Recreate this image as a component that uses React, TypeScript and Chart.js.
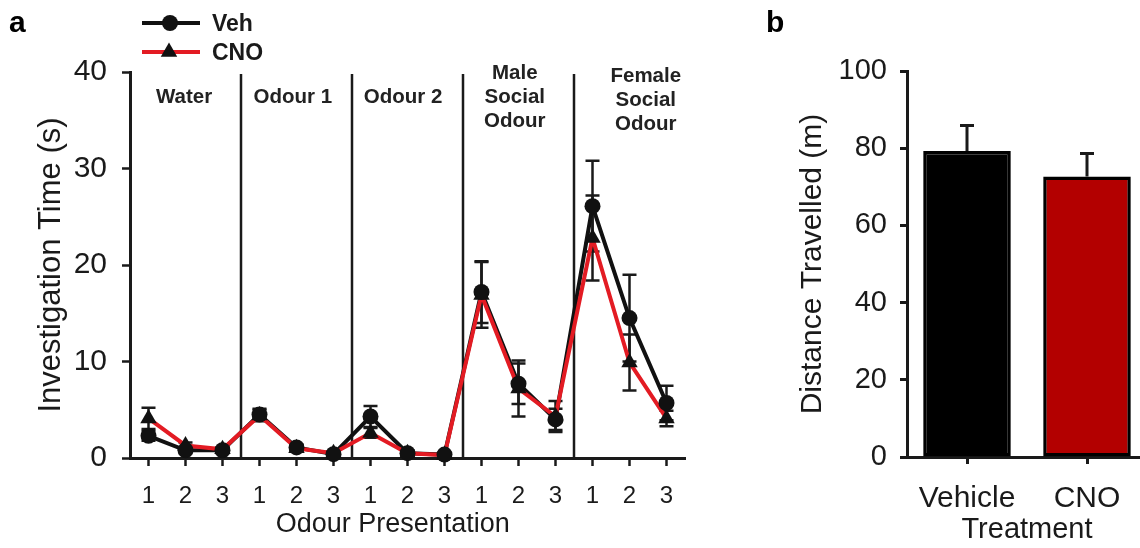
import React, { useEffect, useRef } from 'react';
import { Chart, registerables } from 'chart.js';

Chart.register(...registerables);

// ---------- data ----------
const presentationLabels = ['1', '2', '3', '1', '2', '3', '1', '2', '3', '1', '2', '3', '1', '2', '3'];
const vehMeans = [2.3, 0.8, 0.8, 4.5, 1.1, 0.4, 4.3, 0.5, 0.35, 17.2, 7.7, 4.0, 26.1, 14.5, 5.7];
const vehSem = [0.5, 0.3, 0.3, 0.6, 0.3, 0.2, 1.1, 0.3, 0.2, 3.2, 2.1, 1.1, 4.7, 4.5, 1.8];
const cnoMeans = [4.1, 1.3, 0.9, 4.4, 1.0, 0.5, 2.6, 0.5, 0.3, 16.9, 7.2, 4.3, 22.8, 9.9, 4.1];
const cnoSem = [1.1, 0.3, 0.2, 0.6, 0.3, 0.2, 0.5, 0.2, 0.1, 3.4, 2.9, 1.6, 4.4, 2.9, 0.8];
const sectionNames = [['Water'], ['Odour 1'], ['Odour 2'], ['Male', 'Social', 'Odour'], ['Female', 'Social', 'Odour']];
const seriesNames = ['Veh', 'CNO'];
const investigationTicks = [0, 10, 20, 30, 40];

const treatmentLabels = ['Vehicle', 'CNO'];
const distanceMeans = [79.3, 72.7];
const distanceSem = [6.6, 5.9];
const distanceTicks = [0, 20, 40, 60, 80, 100];

// ---------- styles ----------
const FONT = '"Liberation Sans", Arial, Helvetica, sans-serif';
const INK = '#1a1a1a';
const RED_LINE = '#e31b23';
const RED_BAR = '#b30000';

const axisGrid = {
  display: true,
  drawOnChartArea: false,
  drawTicks: true,
  tickLength: 8,
  tickWidth: 2.5,
  tickColor: INK,
  offset: false,
};
const axisBorder = { display: true, color: INK, width: 3 };

function drawErrorBars(chart: any, means: number[], sems: number[], upOnly: boolean, capHalf: number, lw: number) {
  const { ctx } = chart;
  const xs = chart.scales.x;
  const ys = chart.scales.y;
  ctx.save();
  ctx.strokeStyle = INK;
  ctx.lineWidth = lw;
  ctx.lineCap = 'butt';
  means.forEach((m, i) => {
    const x = xs.getPixelForValue(i);
    const yTop = ys.getPixelForValue(m + sems[i]);
    const yBot = ys.getPixelForValue(upOnly ? m : m - sems[i]);
    ctx.beginPath();
    ctx.moveTo(x, yTop);
    ctx.lineTo(x, yBot);
    ctx.moveTo(x - capHalf, yTop);
    ctx.lineTo(x + capHalf, yTop);
    if (!upOnly) {
      ctx.moveTo(x - capHalf, yBot);
      ctx.lineTo(x + capHalf, yBot);
    }
    ctx.stroke();
  });
  ctx.restore();
}

const investigationDecor = {
  id: 'investigationDecor',
  beforeDatasetsDraw(chart: any) {
    const { ctx, chartArea } = chart;
    const xs = chart.scales.x;
    const ys = chart.scales.y;
    // section separators between groups of three presentations
    ctx.save();
    ctx.strokeStyle = INK;
    ctx.lineWidth = 2.5;
    for (let g = 1; g < sectionNames.length; g++) {
      const x = xs.getPixelForValue(g * 3 - 0.5);
      ctx.beginPath();
      ctx.moveTo(x, ys.getPixelForValue(39.8));
      ctx.lineTo(x, chartArea.bottom);
      ctx.stroke();
    }
    ctx.restore();
    drawErrorBars(chart, vehMeans, vehSem, false, 7, 2.5);
    drawErrorBars(chart, cnoMeans, cnoSem, false, 7, 2.5);
  },
  afterDraw(chart: any) {
    const { ctx, chartArea } = chart;
    const xs = chart.scales.x;
    const ys = chart.scales.y;
    ctx.save();
    // section labels
    const labelX = [0.96, 3.9, 6.88, 9.9, 13.44];
    const labelTop = [37.4, 37.4, 37.4, 39.85, 39.6];
    ctx.fillStyle = '#222';
    ctx.font = `bold 20.5px ${FONT}`;
    ctx.textAlign = 'center';
    ctx.textBaseline = 'middle';
    sectionNames.forEach((lines, i) => {
      const x = xs.getPixelForValue(labelX[i]);
      const y0 = ys.getPixelForValue(labelTop[i]);
      lines.forEach((t, j) => ctx.fillText(t, x, y0 + j * 24));
    });

    // x axis title
    ctx.fillStyle = INK;
    ctx.font = `27px ${FONT}`;
    ctx.fillText('Odour Presentation', xs.getPixelForValue(6.6), chartArea.bottom + 67);

    // legend
    ctx.lineWidth = 4;
    ctx.strokeStyle = '#111';
    ctx.beginPath();
    ctx.moveTo(142, 23);
    ctx.lineTo(200, 23);
    ctx.stroke();
    ctx.fillStyle = '#111';
    ctx.beginPath();
    ctx.arc(170, 23, 8, 0, Math.PI * 2);
    ctx.fill();
    ctx.strokeStyle = RED_LINE;
    ctx.beginPath();
    ctx.moveTo(142, 52);
    ctx.lineTo(200, 52);
    ctx.stroke();
    const r = 9.5;
    ctx.fillStyle = '#111';
    ctx.beginPath();
    ctx.moveTo(169, 52 - r);
    ctx.lineTo(169 + r * 0.866, 52 + r / 2);
    ctx.lineTo(169 - r * 0.866, 52 + r / 2);
    ctx.closePath();
    ctx.fill();
    ctx.fillStyle = INK;
    ctx.font = `bold 23px ${FONT}`;
    ctx.textAlign = 'left';
    ctx.textBaseline = 'alphabetic';
    ctx.fillText(seriesNames[0], 212, 31);
    ctx.fillText(seriesNames[1], 212, 60);

    // panel letter
    ctx.font = `bold 30px ${FONT}`;
    ctx.fillStyle = '#000';
    ctx.fillText('a', 9, 32);
    ctx.restore();
  },
};

const distanceDecor = {
  id: 'distanceDecor',
  afterDatasetsDraw(chart: any) {
    drawErrorBars(chart, distanceMeans, distanceSem, true, 7, 3);
  },
  afterDraw(chart: any) {
    const { ctx } = chart;
    ctx.save();
    ctx.font = `bold 30px ${FONT}`;
    ctx.fillStyle = '#000';
    ctx.textAlign = 'left';
    ctx.textBaseline = 'alphabetic';
    ctx.fillText('b', 6, 32);
    ctx.restore();
  },
};

export default function App() {
  const leftRef = useRef<HTMLCanvasElement>(null);
  const rightRef = useRef<HTMLCanvasElement>(null);

  useEffect(() => {
    const left = new Chart(leftRef.current as HTMLCanvasElement, {
      type: 'line',
      data: {
        labels: presentationLabels,
        datasets: [
          {
            label: seriesNames[0],
            data: vehMeans,
            borderColor: '#111',
            borderWidth: 4,
            pointRadius: 0,
            fill: false,
            tension: 0,
            clip: false,
            order: 4,
          },
          {
            label: seriesNames[1],
            data: cnoMeans,
            borderColor: RED_LINE,
            borderWidth: 4,
            pointRadius: 0,
            fill: false,
            tension: 0,
            clip: false,
            order: 3,
          },
          {
            label: seriesNames[1] + ' markers',
            data: cnoMeans,
            showLine: false,
            pointStyle: 'triangle',
            pointRadius: 9.5,
            pointBackgroundColor: '#111',
            pointBorderColor: '#111',
            pointBorderWidth: 0,
            clip: false,
            order: 2,
          },
          {
            label: seriesNames[0] + ' markers',
            data: vehMeans,
            showLine: false,
            pointStyle: 'circle',
            pointRadius: 8,
            pointBackgroundColor: '#111',
            pointBorderColor: '#111',
            pointBorderWidth: 0,
            clip: false,
            order: 1,
          },
        ],
      },
      options: {
        animation: false,
        responsive: false,
        maintainAspectRatio: false,
        layout: { padding: { left: 0, right: 45, top: 72, bottom: 0 } },
        plugins: { legend: { display: false }, tooltip: { enabled: false } },
        scales: {
          x: {
            type: 'category',
            offset: true,
            grid: axisGrid,
            border: axisBorder,
            ticks: {
              font: { family: FONT, size: 24 },
              color: INK,
              padding: 16,
              maxRotation: 0,
              autoSkip: false,
            },
            afterFit: (s: any) => {
              s.height = 90;
            },
          },
          y: {
            type: 'linear',
            min: 0,
            max: 40,
            afterBuildTicks: (s: any) => {
              s.ticks = investigationTicks.map((v) => ({ value: v }));
            },
            grid: axisGrid,
            border: axisBorder,
            ticks: { font: { family: FONT, size: 30 }, color: INK, padding: 15 },
            title: {
              display: true,
              text: 'Investigation Time (s)',
              font: { family: FONT, size: 31 },
              color: INK,
              padding: { top: 33, bottom: 0 },
            },
            afterFit: (s: any) => {
              s.width = 130;
            },
          },
        },
      } as any,
      plugins: [investigationDecor],
    });

    const right = new Chart(rightRef.current as HTMLCanvasElement, {
      type: 'bar',
      data: {
        labels: treatmentLabels,
        datasets: [
          {
            label: 'Distance Travelled',
            data: distanceMeans,
            backgroundColor: ['#000000', RED_BAR],
            borderColor: '#000',
            borderWidth: 3.5,
            borderSkipped: false,
            barPercentage: 0.73,
            categoryPercentage: 1,
          },
        ],
      },
      options: {
        animation: false,
        responsive: false,
        maintainAspectRatio: false,
        layout: { padding: { left: 0, right: 3, top: 71, bottom: 0 } },
        plugins: { legend: { display: false }, tooltip: { enabled: false } },
        scales: {
          x: {
            type: 'category',
            grid: { ...axisGrid, tickLength: 7, tickWidth: 3 },
            border: axisBorder,
            ticks: { font: { family: FONT, size: 30 }, color: INK, padding: 17, maxRotation: 0 },
            title: {
              display: true,
              text: 'Treatment',
              font: { family: FONT, size: 29 },
              color: INK,
              padding: { top: 0, bottom: 1 },
            },
            afterFit: (s: any) => {
              s.height = 91;
            },
          },
          y: {
            type: 'linear',
            min: 0,
            max: 100,
            afterBuildTicks: (s: any) => {
              s.ticks = distanceTicks.map((v) => ({ value: v }));
            },
            grid: { ...axisGrid, tickLength: 7, tickWidth: 3 },
            border: axisBorder,
            ticks: { font: { family: FONT, size: 29 }, color: INK, padding: 13 },
            title: {
              display: true,
              text: 'Distance Travelled (m)',
              font: { family: FONT, size: 30 },
              color: INK,
              padding: { top: 35, bottom: 0 },
            },
            afterFit: (s: any) => {
              s.width = 147;
            },
          },
        },
      } as any,
      plugins: [distanceDecor],
    });

    return () => {
      left.destroy();
      right.destroy();
    };
  }, []);

  return (
    <div
      style={{
        position: 'fixed',
        left: 0,
        top: 0,
        width: 1140,
        height: 548,
        overflow: 'hidden',
        background: '#ffffff',
      }}
    >
      <canvas
        ref={leftRef}
        width={730}
        height={548}
        style={{ position: 'absolute', left: 0, top: 0, width: 730, height: 548, display: 'block' }}
      />
      <canvas
        ref={rightRef}
        width={390}
        height={548}
        style={{ position: 'absolute', left: 760, top: 0, width: 390, height: 548, display: 'block' }}
      />
    </div>
  );
}
